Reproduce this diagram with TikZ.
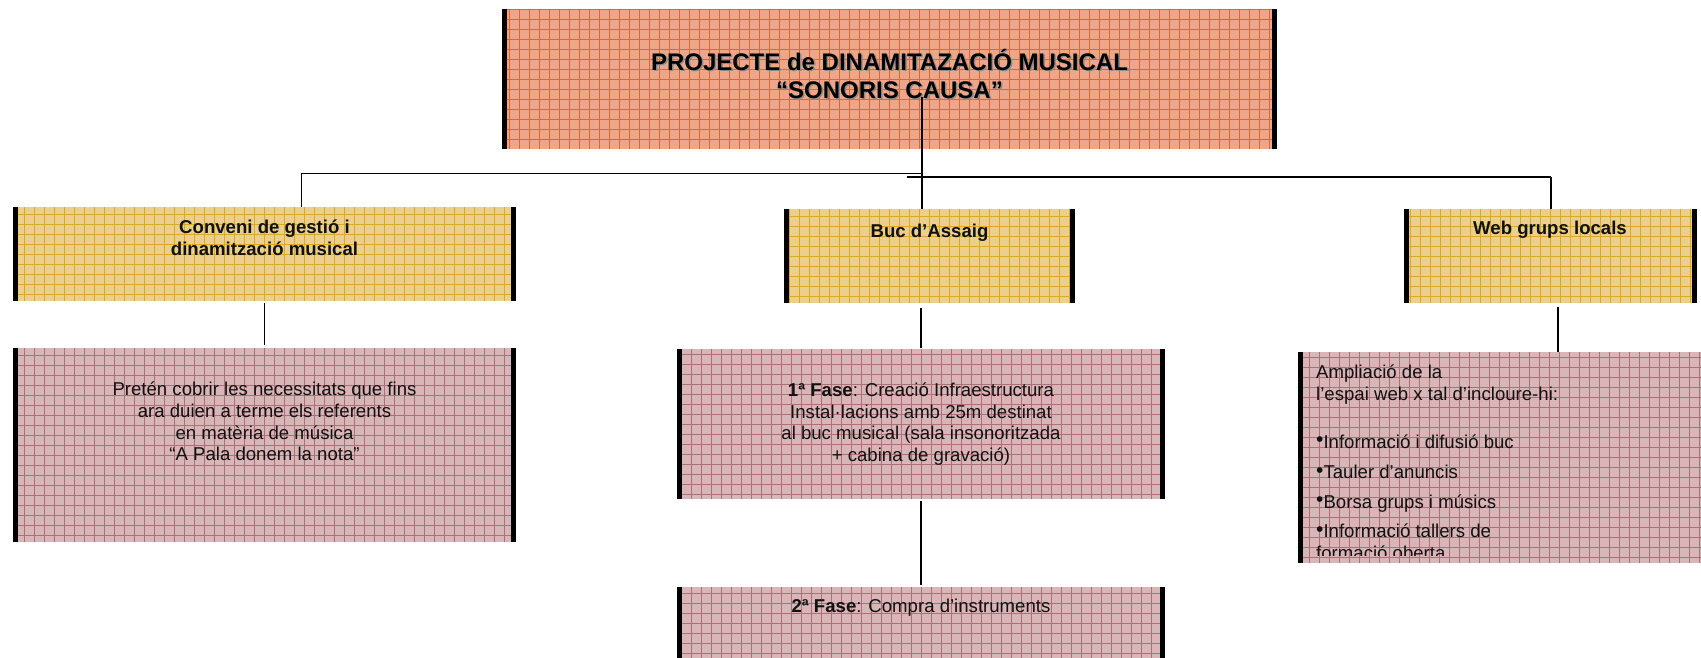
\documentclass[tikz,border=0pt]{standalone}
\usepackage{fontspec}
\setmainfont{Liberation Sans}
\definecolor{titlebg}{HTML}{EDA689}
\definecolor{titlegrid}{HTML}{DA6830}
\definecolor{yelbg}{HTML}{ECCF8C}
\definecolor{yelgrid}{HTML}{D9A928}
\definecolor{pinkbg}{HTML}{D8B6B8}
\definecolor{pinkgrid}{HTML}{AD7078}
\definecolor{txt}{HTML}{111111}
\tikzset{
  gridbox/.style 2 args={rectangle, inner sep=0pt, outer sep=0pt, fill=#1,
    path picture={
      \draw[#2, line width=0.6pt, step=10pt]
        (path picture bounding box.south west) grid (path picture bounding box.north east);
      \fill[black] (path picture bounding box.south west) rectangle ([xshift=5pt]path picture bounding box.north west);
      \fill[black] (path picture bounding box.south east) rectangle ([xshift=-5pt]path picture bounding box.north east);
    }},
  conn/.style={draw=black, line width=1.5pt},
  body/.style={inner sep=0pt, text=txt, font=\fontsize{18.6}{21.6}\selectfont, align=center},
  bodybold/.style={body, font=\fontsize{18.6}{22.3}\selectfont\bfseries},
  titletext/.style={inner sep=0pt, align=center, font=\fontsize{24}{28}\selectfont\bfseries},
  linetext/.style={inner sep=0pt, text=txt, anchor=base west, font=\fontsize{18.6}{21.6}\selectfont},
}
\newcommand\bul{\raisebox{1.5pt}{\fontsize{21}{21}\selectfont •}}
\begin{document}
\begin{tikzpicture}[x=1pt,y=-1pt]
\useasboundingbox[fill=white] (0,0) rectangle (1701,658);

% boxes
\node[gridbox={titlebg}{titlegrid}, minimum width=775pt, minimum height=140pt] (title) at (889.5,79) {};
\node[gridbox={yelbg}{yelgrid}, minimum width=503pt, minimum height=94pt] (conv) at (264.5,254) {};
\node[gridbox={pinkbg}{pinkgrid}, minimum width=503pt, minimum height=194pt] (pret) at (264.5,445) {};
\node[gridbox={yelbg}{yelgrid}, minimum width=291pt, minimum height=94pt] (buc) at (929.5,256) {};
\node[gridbox={pinkbg}{pinkgrid}, minimum width=488pt, minimum height=150pt] (fase1) at (921,424) {};
\node[gridbox={pinkbg}{pinkgrid}, minimum width=488pt, minimum height=113pt] (fase2) at (921,643.5) {};
\node[gridbox={yelbg}{yelgrid}, minimum width=293pt, minimum height=94pt] (web) at (1550.5,256) {};
\node[gridbox={pinkbg}{pinkgrid}, minimum width=442pt, minimum height=211pt] (ampl) at (1519,457.5) {};

% texts
\node[titletext, text=black!45] (ttlshadow) at (891,75) {PROJECTE de DINAMITAZACIÓ MUSICAL\\“SONORIS CAUSA”};
\node[titletext, text=black] (ttl) at (889.5,73.5) {PROJECTE de DINAMITAZACIÓ MUSICAL\\“SONORIS CAUSA”};
\node[bodybold] (convt) at (264.5,238) {Conveni de gestió i\\dinamització musical};
\node[body] (prett) at (264.5,421.5) {Pretén cobrir les necessitats que fins\\ara duien a terme els referents\\en matèria de música\\“A Pala donem la nota”};
\node[bodybold] (buct) at (929.5,233) {Buc d’Assaig};
\node[body] (f1t) at (921,424) {\textbf{1ª Fase}: Creació Infraestructura\\Instal·lacions amb 25m destinat\\al buc musical (sala insonoritzada\\+ cabina de gravació)};
\node[body] (f2t) at (921,608) {\textbf{2ª Fase}: Compra d’instruments};
\node[bodybold] (webt) at (1550,230) {Web grups locals};

\begin{scope}
\clip (1298,352) rectangle (1701,555);
\node[linetext] (a1) at (1316,378.5) {Ampliació de la};
\node[linetext] (a2) at (1316,400) {l’espai web x tal d’incloure-hi:};
\node[linetext] (a3) at (1316,448) {\bul Informació i difusió buc};
\node[linetext] (a4) at (1316,478.5) {\bul Tauler d’anuncis};
\node[linetext] (a5) at (1316,508) {\bul Borsa grups i músics};
\node[linetext] (a6) at (1316,537.5) {\bul Informació tallers de};
\node[linetext] (a7) at (1316,559) {formació oberta};
\end{scope}

% connectors
\coordinate (tstart) at (922,97);
\coordinate (busL) at (301.6,173.5);
\coordinate (busLend) at (922,173.5);
\coordinate (busR) at (907,177);
\coordinate (busRend) at (1551,177);
\coordinate (wx) at (1558,0);
\draw[conn] (tstart) -- (tstart |- buc.north);
\draw[conn] (busL) -- (busLend);
\draw[conn] (busR) -- (busRend);
\draw[conn] (busL) -- (busL |- conv.north);
\draw[conn] (busRend) -- (busRend |- web.north);
\draw[conn, shorten <=2pt, shorten >=3pt] (conv.south) -- (pret.north);
\draw[conn, shorten <=5pt, shorten >=1pt] (buc.south -| fase1.north) -- (fase1.north);
\draw[conn, shorten <=2pt, shorten >=2pt] (fase1.south) -- (fase2.north);
\draw[conn, shorten <=4pt] (web.south -| wx) -- (ampl.north -| wx);
\end{tikzpicture}
\end{document}
